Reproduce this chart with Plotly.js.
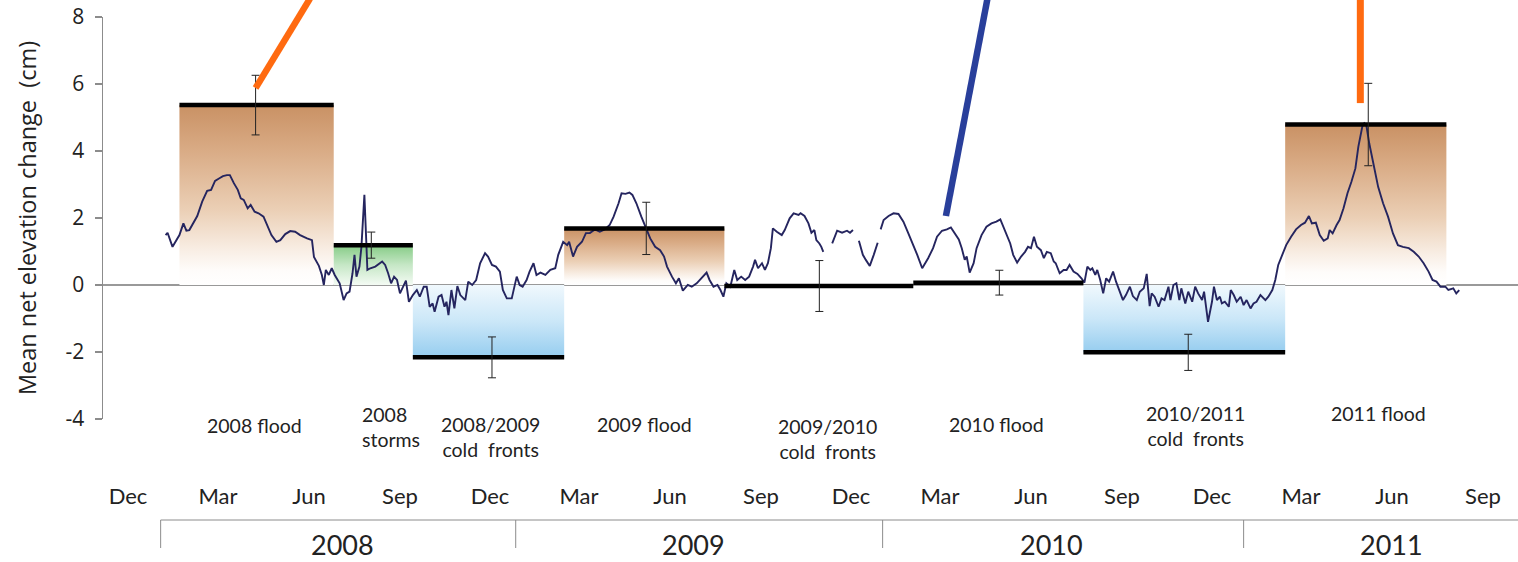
<!DOCTYPE html>
<html><head><meta charset="utf-8">
<script src="https://cdn.plot.ly/plotly-3.0.1.min.js"></script>
<style>html,body{margin:0;padding:0;background:#fff}#chart{width:1518px;height:562px}</style>
</head><body><div id="chart"></div>
<script>
// ---------------- data ----------------
const baseDate = '2007-12-01';           // day offsets below are counted from this date
const dayOffsets = [
 38,40,45,49,52,56,59,62,66,70,75,80,84,88,92,96,100,103,107,111,114,117,121,124,128,132,137,141,145,150,154,159,164,169,174,181,186,188,191,193,196,198,200,203,206,209,214,218,221,224,227,229,231,234,236,239,241,242,245,250,
 257,260,263,266,269,272,275,278,281,284,288,292,295,299,302,305,308,310,314,317,320,322,324,327,330,333,336,341,344,348,352,356,361,364,368,372,376,379,383,388,390,393,396,399,403,406,410,413,417,422,427,432,435,440,444,446,450,454,459,463,467,
 472,477,482,487,491,496,499,503,507,510,514,519,524,528,533,538,542,545,550,554,557,561,566,570,575,580,585,588,592,596,599,602,605,609,613,616,620,624,628,632,634,637,641,644,647,650,652,656,661,664,669,673,678,
 680,684,688,691,694,696,699,701,703,706,712,715,717,722,727,730,733,735,739,743,746,750,754,758,759,761,764,769,774,779,784,789,794,798,803,806,809,814,818,823,828,832,836,840,843,846,848,851,855,858,863,868,873,878,882,
 886,892,895,899,903,907,910,913,916,919,923,926,929,933,936,938,942,946,949,952,956,960,964,967,970,973,975,978,980,983,986,989,992,996,999,1002,1006,1009,1013,1016,1020,1023,1027,1030,1033,1035,1038,1042,1045,1048,1052,1054,1057,1060,1063,1065,1069,1072,1076,1079,1082,1086,1088,1092,1096,1098,1101,1104,
 1106,1109,1113,1115,1118,1121,1125,1128,1131,1135,1138,1141,1145,1150,1153,1157,1160,1163,1167,1171,1176,1181,1186,1190,1194,1197,1201,1205,1209,1213,1215,1218,1222,1225,1229,1233,1237,1241,1244,1248,1250,1252,1255,1259,1264,1269,1274,1279,1284,1289,1295,1300,1305,1310,1315,1319,1323,1327,1332,1335,1340,1343,1346
];
const elevation = [
 1.49,1.56,1.14,1.34,1.49,1.84,1.62,1.64,1.86,2.06,2.49,2.81,2.84,3.11,3.18,3.25,3.28,3.28,3.04,2.84,2.59,2.54,2.29,2.39,2.19,2.14,2.04,1.79,1.49,1.29,1.34,1.52,1.61,1.59,1.49,1.39,1.34,0.84,0.65,0.57,0.30,0.00,0.45,0.30,0.50,0.30,0.05,-0.45,-0.25,-0.20,0.35,0.90,0.25,0.55,1.14,2.69,1.24,0.45,0.50,0.55,
 0.70,0.60,0.35,0.05,0.25,0.15,-0.25,-0.05,0.13,-0.50,-0.30,-0.15,-0.35,-0.05,-0.05,-0.65,-0.55,-0.80,-0.35,-0.30,-0.65,-0.50,-0.90,-0.15,-0.70,-0.03,-0.30,-0.45,0.10,0.00,0.15,0.65,0.95,0.85,0.60,0.55,0.40,-0.15,-0.40,-0.40,-0.15,0.25,0.00,-0.05,0.15,0.40,0.65,0.30,0.37,0.30,0.45,0.50,0.90,1.29,1.19,1.29,0.85,1.14,1.29,1.55,1.55,
 1.66,1.59,1.66,1.79,2.04,2.44,2.74,2.72,2.76,2.69,2.44,2.04,1.69,1.39,1.14,1.04,0.85,0.55,0.25,0.05,0.20,-0.17,0.00,-0.05,0.05,0.20,0.37,0.15,-0.05,0.00,-0.15,-0.35,0.05,-0.05,0.45,0.15,0.25,0.15,0.25,0.55,0.75,0.50,0.65,0.45,0.65,1.10,1.69,1.59,1.49,1.64,1.99,2.14,2.09,
 2.14,2.06,1.84,1.56,1.64,1.34,1.24,1.14,0.99,null,1.24,1.44,1.62,1.56,1.62,1.56,1.64,null,1.32,0.90,0.75,0.57,0.90,1.26,null,1.66,1.94,2.06,2.14,2.12,1.89,1.54,1.19,0.90,0.50,0.65,0.80,1.10,1.44,1.62,1.66,1.72,1.54,1.36,1.10,0.75,0.85,0.37,0.65,1.10,1.49,1.74,1.84,1.89,1.96,
 1.68,1.24,0.90,0.67,0.85,0.99,1.14,1.10,1.44,1.14,1.04,0.80,0.99,0.95,0.70,0.65,0.35,0.45,0.45,0.60,0.40,0.33,0.20,0.07,0.55,0.45,0.50,0.30,0.45,0.15,-0.25,0.20,0.10,0.40,0.10,-0.15,-0.45,-0.30,-0.05,-0.33,-0.45,-0.20,-0.10,0.33,-0.63,-0.25,-0.35,-0.65,-0.40,-0.45,-0.05,-0.45,0.00,0.05,-0.45,-0.10,-0.55,-0.20,-0.50,-0.05,-0.25,-0.45,-0.20,-1.10,-0.50,-0.05,-0.45,-0.35,
 -0.55,-0.50,-0.65,-0.15,-0.30,-0.50,-0.35,-0.60,-0.45,-0.70,-0.55,-0.50,-0.30,-0.45,-0.35,-0.15,0.15,0.60,0.90,1.19,1.44,1.66,1.79,1.86,2.06,1.84,1.86,1.49,1.32,1.39,1.64,1.54,1.79,1.94,2.29,2.74,3.08,3.48,4.13,4.73,4.83,4.78,4.23,3.63,2.93,2.44,2.04,1.54,1.19,1.14,1.10,0.99,0.85,0.65,0.40,0.15,0.10,-0.05,-0.05,-0.15,-0.10,-0.25,-0.15
];

const eventNames   = ['2008 flood','2008 storms','2008/2009 cold fronts','2009 flood','2009/2010 cold fronts','2010 flood','2010/2011 cold fronts','2011 flood'];
const eventStart   = ['2008-01-22','2008-06-26','2008-09-14','2009-02-14','2009-07-26','2010-02-02','2010-07-24','2011-02-13'];
const eventEnd     = ['2008-06-26','2008-09-14','2009-02-14','2009-07-26','2010-02-02','2010-07-24','2011-02-13','2011-07-26'];
const eventMean    = [5.37, 1.19, -2.16, 1.69, -0.03, 0.07, -2.01, 4.79];
const eventErr     = [0.89, 0.39, 0.61, 0.78, 0.76, 0.37, 0.54, 1.23];
const eventErrDate = ['2008-04-08','2008-08-03','2008-12-03','2009-05-08','2009-10-30','2010-04-30','2010-11-07','2011-05-08'];
const eventKind    = ['flood','storm','front','flood',null,null,'front','flood'];

const eventLabels  = ['2008 flood','2008<br>storms','2008/2009<br>cold\u00a0 fronts','2009 flood','2009/2010<br>cold\u00a0 fronts','2010 flood','2010/2011<br>cold\u00a0 fronts','2011 flood'];

const yTickValues = [-4, -2, 0, 2, 4, 6, 8];
const yTickLabels = ['-4', '-2', '0', '2', '4', '6', '8'];
const monthTickDates  = ['2007-12-01','2008-03-01','2008-06-01','2008-09-01','2008-12-01','2009-03-01','2009-06-01','2009-09-01','2009-12-01','2010-03-01','2010-06-01','2010-09-01','2010-12-01','2011-03-01','2011-06-01','2011-09-01'];
const monthTickLabels = ['Dec','Mar','Jun','Sep','Dec','Mar','Jun','Sep','Dec','Mar','Jun','Sep','Dec','Mar','Jun','Sep'];
const years        = ['2008','2009','2010','2011'];
const yearDividers = ['2008-01-03','2008-12-27','2010-01-02','2011-01-02'];

// callout strokes (cut off at the top of the figure)
const calloutFrom = [['2008-04-08',5.88],['2010-03-07',2.06],['2011-04-30',5.43]];
const calloutTo   = [['2008-06-02',8.55],['2010-04-18',8.55],['2011-04-30',8.55]];

// ---------------- layout helpers (positions / styles) ----------------
const X_RANGE = ['2007-11-05 17:00','2011-10-06 10:00'];
const Y_MIN = -4, Y_MAX = 8;
const PLOT_TOP = 17, PLOT_BOTTOM = 419;
const pyPaper = px => (PLOT_BOTTOM - px) / (PLOT_BOTTOM - PLOT_TOP);
const yPaper = v => (v - Y_MIN) / (Y_MAX - Y_MIN);

const labelDate   = ['2008-04-07','2008-07-23','2008-12-02','2009-05-06','2009-11-07','2010-04-27','2010-11-14','2011-05-18'];
const labelYpx    = [425, 427, 437, 424, 438.5, 424, 426, 413];
const labelAnchor = ['center','left','center','center','center','center','center','center'];
const yearLabelDates = ['2008-07-05','2009-06-25','2010-06-22','2011-06-01'];

const shades = {
  flood: [[0,'#ffffff'],[0.08,'#fefcfa'],[0.2,'#f8ede3'],[0.42,'#ebcfb5'],[0.75,'#d9ab85'],[1,'#c99164']],
  storm: [[0,'#f4fbf4'],[0.5,'#c6e7c6'],[1,'#85cb85']],
  front: [[0,'#f0f8fd'],[0.5,'#cbe7f8'],[1,'#96cdef']]
};

const lineDates = dayOffsets.map(d => {
  const t = Date.parse(baseDate + 'T00:00:00Z') + d * 86400000;
  return new Date(t).toISOString().slice(0, 10);
});

const traces = [];
eventNames.forEach((name, i) => {
  if (!eventKind[i]) return;
  traces.push({
    type: 'scatter', mode: 'lines', name: name,
    x: [eventStart[i], eventEnd[i], eventEnd[i], eventStart[i], eventStart[i]],
    y: [eventMean[i], eventMean[i], 0, 0, eventMean[i]],
    fill: 'toself', line: {width: 0, color: 'rgba(0,0,0,0)'},
    fillcolor: shades[eventKind[i]][1][1],
    fillgradient: {type: 'vertical', colorscale: shades[eventKind[i]], start: 0, stop: eventMean[i]},
    hoverinfo: 'skip', showlegend: false
  });
});

traces.push({
  type: 'scatter', mode: 'lines', name: 'elevation',
  x: lineDates, y: elevation,
  line: {color: '#25255f', width: 1.9}, connectgaps: false, hoverinfo: 'skip'
});

eventNames.forEach((name, i) => {
  traces.push({
    type: 'scatter', mode: 'lines', name: name + ' mean',
    x: [eventStart[i], eventEnd[i]], y: [eventMean[i], eventMean[i]],
    line: {color: '#000', width: 4.5}, hoverinfo: 'skip'
  });
});

traces.push({
  type: 'scatter', mode: 'markers', name: 'error',
  x: eventErrDate, y: eventMean,
  marker: {size: 1, color: 'rgba(0,0,0,0)'},
  error_y: {type: 'data', array: eventErr, visible: true, color: '#222', thickness: 1, width: 4},
  hoverinfo: 'skip'
});

const shapes = [];
shapes.push({type: 'line', xref: 'x', yref: 'paper', x0: yearDividers[0], x1: X_RANGE[1],
  y0: pyPaper(520), y1: pyPaper(520), line: {color: '#8c8c8c', width: 1}});
yearDividers.forEach(d => shapes.push({type: 'line', xref: 'x', yref: 'paper', x0: d, x1: d,
  y0: pyPaper(520), y1: pyPaper(548), line: {color: '#8c8c8c', width: 1}}));
const calloutColor = ['#ff6a10', '#293f9b', '#ff6a10'];
const calloutWidth = [6.5, 6.5, 7];
calloutFrom.forEach((p, i) => shapes.push({type: 'line', xref: 'x', yref: 'paper',
  x0: p[0], y0: yPaper(p[1]), x1: calloutTo[i][0], y1: yPaper(calloutTo[i][1]),
  line: {color: calloutColor[i], width: calloutWidth[i]}}));

const annotations = [];
eventLabels.forEach((t, i) => annotations.push({
  text: t, xref: 'x', yref: 'paper', x: labelDate[i], y: pyPaper(labelYpx[i]),
  xanchor: labelAnchor[i], yanchor: 'middle', align: labelAnchor[i] === 'left' ? 'left' : 'center',
  showarrow: false, font: {family: 'Lato, sans-serif', size: 19.5, color: '#222'}
}));
years.forEach((t, i) => annotations.push({
  text: t, xref: 'x', yref: 'paper', x: yearLabelDates[i], y: pyPaper(544),
  xanchor: 'center', yanchor: 'middle', showarrow: false,
  font: {family: 'Lato, sans-serif', size: 27, color: '#222'}
}));

const layout = {
  width: 1518, height: 562,
  margin: {l: 103, r: 0, t: PLOT_TOP, b: 562 - PLOT_BOTTOM, pad: 0},
  paper_bgcolor: '#fff', plot_bgcolor: '#fff', showlegend: false,
  xaxis: {type: 'date', range: X_RANGE, tickvals: monthTickDates, ticktext: monthTickLabels,
    ticks: '', showgrid: false, zeroline: false, showline: false, fixedrange: true,
    tickfont: {family: 'Lato, sans-serif', size: 22, color: '#222'}, ticklabelstandoff: 62, automargin: false},
  yaxis: {range: [Y_MIN, Y_MAX], tickvals: yTickValues, ticktext: yTickLabels, showgrid: false,
    zeroline: true, zerolinecolor: '#999', zerolinewidth: 1.5,
    showline: true, linecolor: '#8c8c8c', linewidth: 1.5,
    ticks: 'outside', ticklen: 7, tickcolor: '#8c8c8c', tickwidth: 1.5,
    tickfont: {family: "'Open Sans', sans-serif", size: 21, color: '#222'}, ticklabelstandoff: 6,
    title: {text: 'Mean net elevation change\u00a0 (cm)', font: {family: "'Open Sans', sans-serif", size: 23.5, color: '#222'}, standoff: 22},
    fixedrange: true, automargin: false},
  shapes: shapes, annotations: annotations
};

Plotly.newPlot('chart', traces, layout, {displayModeBar: false, staticPlot: true});
</script></body></html>
